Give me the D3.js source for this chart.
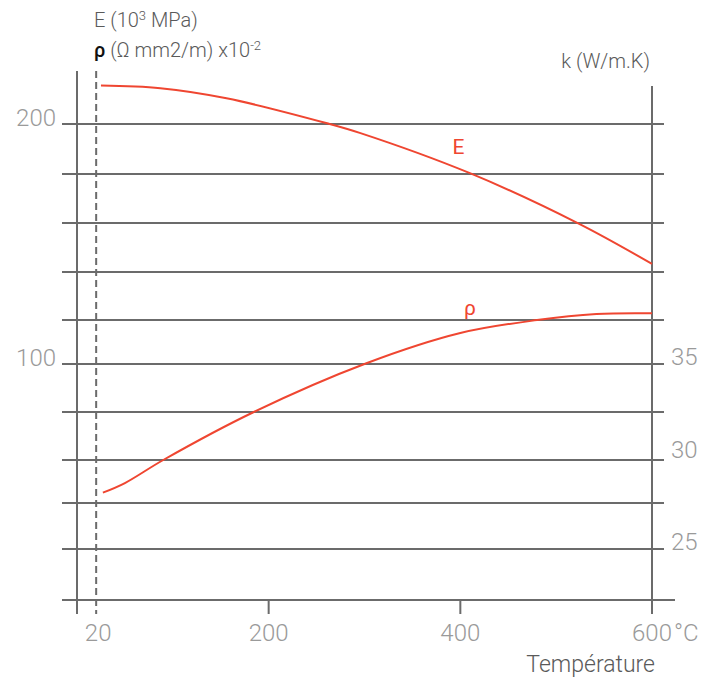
<!DOCTYPE html>
<html lang="en">
<head>
  <meta charset="UTF-8">
  <title>E, rho and k vs temperature</title>
  <script src="https://d3js.org/d3.v7.min.js"></script>
  <style>
    body {
      margin: 0;
      background: #fff;
      font-family: Roboto, "Open Sans", sans-serif;
      font-weight: 300;
    }
    .grid line { stroke: #6b6b6b; stroke-width: 2px; }
    .tick-label { fill: #9a9a9a; font-size: 24px; }
    .title { fill: #5a5a5a; font-size: 20px; }
  </style>
</head>
<body>
  <svg id="chart" width="718" height="679"></svg>

  <script>
    // temperature ticks (°C)
    const xTicks = [20, 200, 400, 600];
    // left axis labels and horizontal rules (left-axis units)
    const leftLabels = [200, 100];
    const gridValues = [200, 179.2, 158.8, 138.3, 118.3, 100, 80, 60, 42.1, 22.9];
    // right axis k (W/m.K)
    const kLabels = [35, 30, 25];

    // E (10^3 MPa)
    const eTemp = [25, 87, 156, 261, 295, 410, 523, 600];
    const eVal = [216.0, 214.9, 210.7, 200.3, 196.3, 179.5, 158.6, 141.7];
    // rho (x10^-2)
    const rhoTemp = [27, 50, 90, 184, 302, 400, 480, 542, 600];
    const rhoVal = [46.4, 50.4, 60, 79.9, 100.3, 112.9, 118.3, 120.8, 121.1];

    const red = "#ef4631";
    const svg = d3.select("#chart");

    const x = d3.scaleLinear().domain([0, 600]).range([77, 652]);
    const y = d3.scaleLinear().domain([100, 200]).range([364, 124]);
    const k = d3.scaleLinear().domain([25, 35]).range([549, 364]);
    const baseY = 600;

    // horizontal rules
    svg.append("g").attr("class", "grid")
      .selectAll("line").data(gridValues).enter().append("line")
      .attr("x1", 62).attr("x2", 664)
      .attr("y1", d => y(d)).attr("y2", d => y(d));

    // x axis line and ticks
    const gx = svg.append("g").attr("class", "grid");
    gx.append("line").attr("x1", 62).attr("x2", 675).attr("y1", baseY).attr("y2", baseY);
    gx.selectAll(".xt").data(xTicks.filter(d => d !== 20)).enter().append("line")
      .attr("x1", d => x(d)).attr("x2", d => x(d))
      .attr("y1", baseY).attr("y2", baseY + 14);

    // left and right vertical axes
    gx.append("line").attr("x1", x(0)).attr("x2", x(0)).attr("y1", 71).attr("y2", baseY + 14);
    gx.append("line").attr("x1", x(600)).attr("x2", x(600)).attr("y1", 86).attr("y2", baseY + 14);

    // dashed line at 20 °C
    svg.append("line")
      .attr("x1", x(20)).attr("x2", x(20)).attr("y1", 71).attr("y2", baseY + 14)
      .attr("stroke", "#6b6b6b").attr("stroke-width", 2).attr("stroke-dasharray", "7,4");

    // labels
    svg.selectAll(".ll").data(leftLabels).enter().append("text")
      .attr("class", "tick-label").attr("text-anchor", "end")
      .attr("x", 56).attr("y", d => y(d) + 2).text(d => d);

    svg.selectAll(".kl").data(kLabels).enter().append("text")
      .attr("class", "tick-label")
      .attr("x", 671).attr("y", d => k(d) + 1).text(d => d);

    svg.selectAll(".xl").data(xTicks).enter().append("text")
      .attr("class", "tick-label").attr("text-anchor", "middle")
      .attr("x", d => x(d) + (d === 20 ? 2 : 0)).attr("y", 641).text(d => d);
    svg.append("text").attr("class", "tick-label")
      .attr("x", 674).attr("y", 641).text("°C");

    svg.append("text").attr("class", "title").attr("text-anchor", "end")
      .attr("x", 655).attr("y", 672).style("font-size", "23px").text("Température");

    // titles
    const t1 = svg.append("text").attr("class", "title").attr("x", 94).attr("y", 27);
    t1.append("tspan").text("E (10");
    t1.append("tspan").attr("dy", -7).style("font-size", "13px").text("3");
    t1.append("tspan").attr("dy", 7).text(" MPa)");

    const t2 = svg.append("text").attr("class", "title").attr("x", 94).attr("y", 57);
    t2.append("tspan").style("fill", "#111").style("font-weight", 500).text("ρ");
    t2.append("tspan").text(" (Ω mm2/m) x10");
    t2.append("tspan").attr("dy", -7).style("font-size", "13px").text("-2");

    svg.append("text").attr("class", "title").attr("text-anchor", "end")
      .attr("x", 650).attr("y", 68).text("k (W/m.K)");

    // curves
    const line = d3.line().x(d => x(d[0])).y(d => y(d[1])).curve(d3.curveCatmullRom.alpha(0.5));
    const eData = d3.zip(eTemp, eVal);
    const rhoData = d3.zip(rhoTemp, rhoVal);

    svg.append("path").datum(eData).attr("d", line)
      .attr("fill", "none").attr("stroke", red).attr("stroke-width", 2);
    svg.append("path").datum(rhoData).attr("d", line)
      .attr("fill", "none").attr("stroke", red).attr("stroke-width", 2);

    svg.append("text").attr("x", x(398)).attr("y", y(187.5))
      .attr("text-anchor", "middle").style("fill", red).style("font-size", "21px").style("font-weight", 400).text("E");
    svg.append("text").attr("x", x(410)).attr("y", y(120.3))
      .attr("text-anchor", "middle").style("fill", red).style("font-size", "21px").style("font-weight", 400).text("ρ");
  </script>
</body>
</html>
